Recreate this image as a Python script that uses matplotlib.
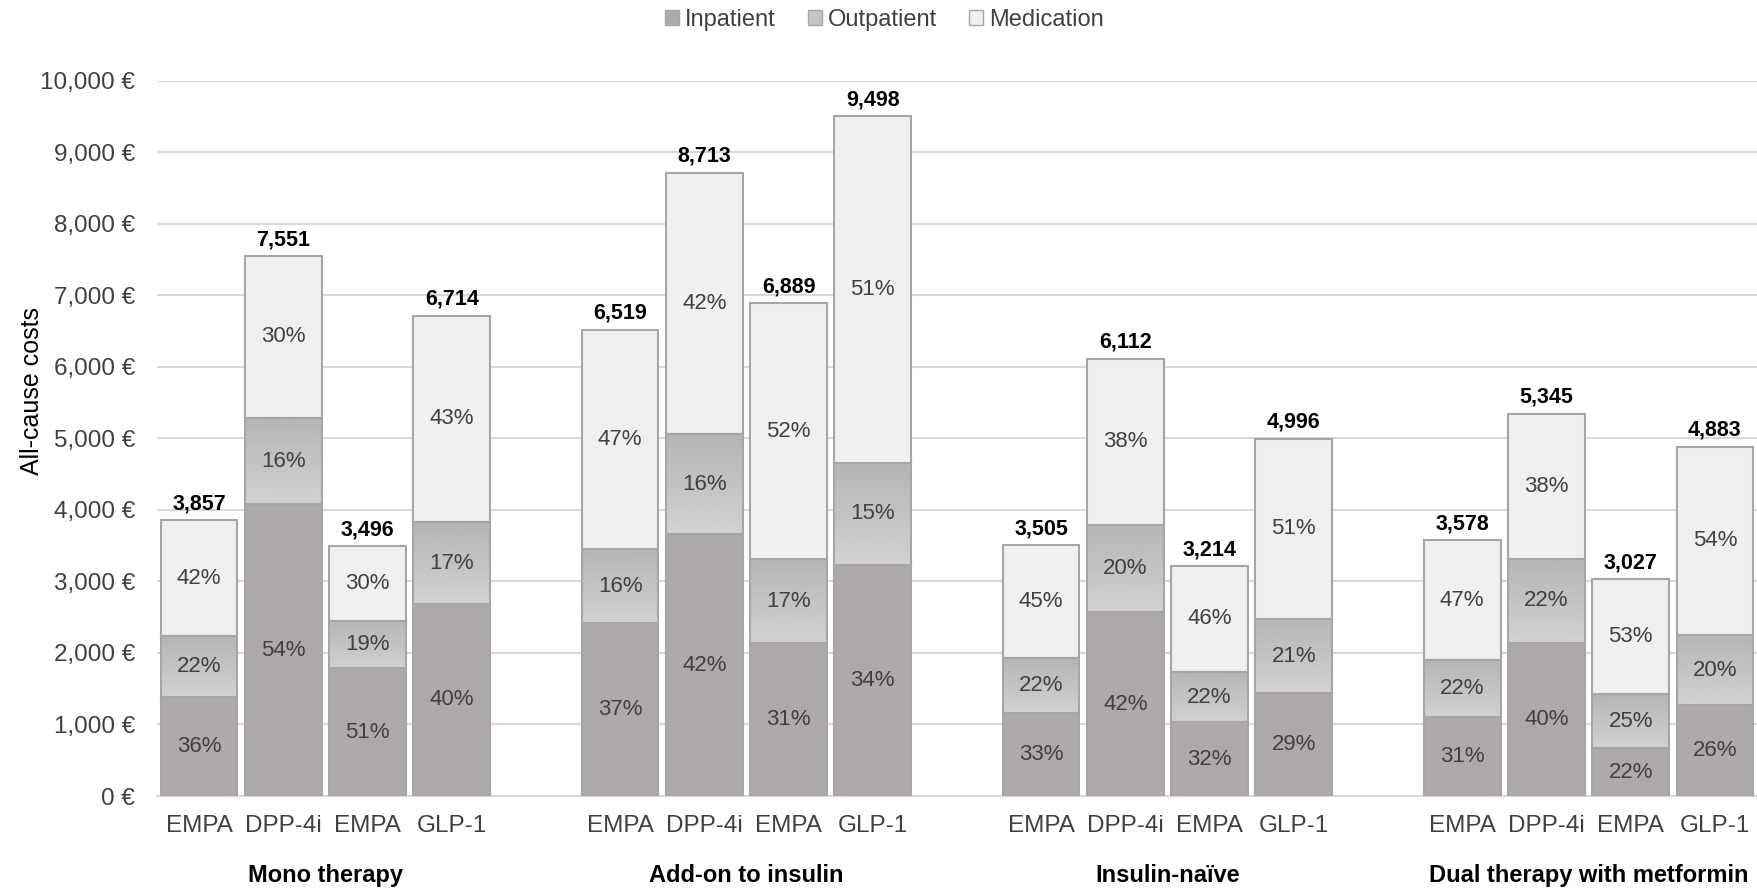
import matplotlib
matplotlib.use("Agg")
import matplotlib.pyplot as plt
import numpy as np
from matplotlib.patches import Patch

plt.rcParams["font.family"] = ["Liberation Sans", "DejaVu Sans"]

groups = ["Mono therapy", "Add-on to insulin", "Insulin-naïve", "Dual therapy with metformin"]
drugs = ["EMPA", "DPP-4i", "EMPA", "GLP-1"]

# total all-cause costs per bar (EUR)
totals = [3857, 7551, 3496, 6714,
          6519, 8713, 6889, 9498,
          3505, 6112, 3214, 4996,
          3578, 5345, 3027, 4883]
# shares in percent as printed in the bars
inpatient_pct = [36, 54, 51, 40, 37, 42, 31, 34, 33, 42, 32, 29, 31, 40, 22, 26]
outpatient_pct = [22, 16, 19, 17, 16, 16, 17, 15, 22, 20, 22, 21, 22, 22, 25, 20]
medication_pct = [42, 30, 30, 43, 47, 42, 52, 51, 45, 38, 46, 51, 47, 38, 53, 54]

TXT = "#404040"
EDGE = "#a6a6a6"
C_IN = "#aeaaa9"
C_OUT = "#c4c4c4"
C_MED = "#f0f0f0"

tot = np.array(totals, float)
pin = np.array(inpatient_pct, float)
pout = np.array(outpatient_pct, float)
pmed = np.array(medication_pct, float)
s = pin + pout + pmed
v_in = tot * pin / s
v_out = tot * pout / s
v_med = tot * pmed / s

# 4 bars per group, one empty slot between groups
x = np.array([g * 5 + i for g in range(len(groups)) for i in range(len(drugs))], float)
width = 0.91

fig = plt.figure(figsize=(17.58, 8.89), dpi=100)
ax = fig.add_axes([0.0893, 0.1046, 0.9101, 0.8048])

b_in = ax.bar(x, v_in, width, color=C_IN, edgecolor=EDGE, linewidth=1.5, zorder=3)
b_out = ax.bar(x, v_out, width, bottom=v_in, color=C_OUT, edgecolor=EDGE, linewidth=1.5, zorder=3)
b_med = ax.bar(x, v_med, width, bottom=v_in + v_out, color=C_MED, edgecolor=EDGE, linewidth=1.5, zorder=3)

# vertical gradient in the outpatient segments
grad = np.linspace(0.82, 0.71, 64).reshape(-1, 1)
for r in b_out:
    x0, y0 = r.get_x(), r.get_y()
    im = ax.imshow(grad, cmap="gray", vmin=0, vmax=1, aspect="auto",
                   extent=(x0, x0 + r.get_width(), y0 + r.get_height(), y0),
                   origin="upper", zorder=3.5)
    im.set_clip_path(r)
    r.set_facecolor("none")
    r.set_zorder(4)

# percentage labels
for xi, b0, h, p in zip(x, np.zeros_like(v_in), v_in, inpatient_pct):
    ax.text(xi, b0 + h / 2, f"{p}%", ha="center", va="center", fontsize=16, color=TXT, zorder=5)
for xi, b0, h, p in zip(x, v_in, v_out, outpatient_pct):
    ax.text(xi, b0 + h / 2, f"{p}%", ha="center", va="center", fontsize=16, color=TXT, zorder=5)
for xi, b0, h, p in zip(x, v_in + v_out, v_med, medication_pct):
    ax.text(xi, b0 + h / 2, f"{p}%", ha="center", va="center", fontsize=16, color=TXT, zorder=5)
for xi, t in zip(x, totals):
    ax.text(xi, t + 80, f"{t:,}", ha="center", va="bottom", fontsize=15.5,
            fontweight="bold", color="black", zorder=5)

ax.set_xlim(-0.5, 18.5)
ax.set_ylim(0, 10000)
ax.set_yticks(np.arange(0, 10001, 1000))
ax.set_yticklabels([f"{v:,} €" for v in range(0, 10001, 1000)])
ax.tick_params(axis="y", length=0, pad=16, labelsize=17.5, labelcolor=TXT)
ax.set_xticks(x)
ax.set_xticklabels(drugs * len(groups))
ax.tick_params(axis="x", length=0, pad=13.5, labelsize=17.5, labelcolor=TXT)
ax.grid(axis="y", color="#d9d9d9", linewidth=1.5, zorder=0)
for side in ["left", "right", "top"]:
    ax.spines[side].set_visible(False)
ax.spines["bottom"].set_color("#d9d9d9")
ax.spines["bottom"].set_linewidth(1.5)

for g, name in enumerate(groups):
    ax.text(g * 5 + 1.5, -0.111, name, transform=ax.get_xaxis_transform(),
            ha="center", va="center", fontsize=17, fontweight="bold", color="black")

fig.text(0.018, 0.5605, "All-cause costs", rotation=90, ha="center", va="center",
         fontsize=18, color="black")

handles = [Patch(facecolor=C_IN, edgecolor=EDGE, label="Inpatient"),
           Patch(facecolor=C_OUT, edgecolor=EDGE, label="Outpatient"),
           Patch(facecolor=C_MED, edgecolor=EDGE, label="Medication")]
leg = fig.legend(handles=handles, loc="center", bbox_to_anchor=(0.503, 0.978), ncol=3,
                 frameon=False, fontsize=17, handlelength=0.6, handleheight=0.6,
                 handletextpad=0.25, columnspacing=1.35)
for t in leg.get_texts():
    t.set_color(TXT)

fig.savefig("out.png", dpi=100)
